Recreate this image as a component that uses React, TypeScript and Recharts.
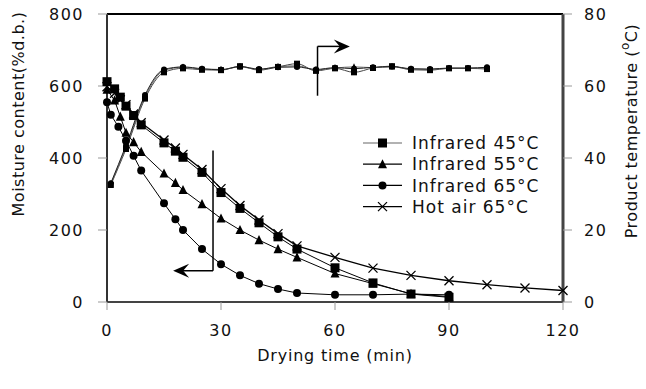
import React from 'react'
import { ComposedChart, Line, XAxis, YAxis, ReferenceLine, Label } from 'recharts'

// drying time (min) for each moisture series
const timeIr45 = [0, 2, 3.5, 5, 7, 9, 15, 18, 20, 25, 30, 35, 40, 45, 50, 60, 70, 80, 90]
const timeIr55 = [0, 2, 3.5, 5, 7, 9, 15, 18, 20, 25, 30, 35, 40, 45, 50, 60, 70, 80, 90]
const timeIr65 = [0, 1, 3, 5, 7, 9, 15, 18, 20, 25, 30, 35, 40, 45, 50, 60, 70, 80, 90]
const timeHot = [0, 2, 3.5, 5, 7, 9, 15, 18, 20, 25, 30, 35, 40, 45, 50, 60, 70, 80, 90, 100, 110, 120]

// moisture content (%d.b.)
const moistIr45 = [612, 592, 569, 544, 518, 492, 442, 419, 402, 360, 304, 260, 220, 181, 147, 95, 53, 22, 13]
const moistIr55 = [590, 560, 515, 470, 444, 417, 357, 331, 311, 272, 232, 200, 172, 147, 124, 79, 51, 23, 15]
const moistIr65 = [555, 520, 487, 448, 406, 365, 274, 230, 200, 147, 105, 74, 51, 36, 25, 20, 20, 22, 20]
const moistHot = [598, 580, 562, 548, 522, 498, 450, 428, 410, 368, 315, 268, 228, 190, 156, 124, 94, 74, 59, 48, 39, 32]

// product temperature (°C)
const tempTime = [1, 5, 10, 15, 20, 25, 30, 35, 40, 45, 50, 55, 60, 65, 70, 75, 80, 85, 90, 95, 100]
const tempIr45 = [32.5, 42.5, 56.5, 63.8, 64.9, 64.5, 64.4, 65.5, 64.4, 65.3, 66.2, 64.2, 64.9, 63.8, 65, 65.5, 64.5, 64.4, 64.9, 64.9, 64.7]
const tempIr55 = [32.8, 43, 57, 64.3, 65.2, 64.7, 64.6, 65.3, 64.6, 65.4, 65.6, 64.5, 65, 65.3, 65.1, 65.3, 64.7, 64.6, 64.9, 64.9, 65]
const tempIr65 = [33, 43.5, 57.5, 64.6, 65.3, 64.8, 64.5, 65.4, 64.7, 65.2, 65.3, 64.6, 65.1, 64.8, 65.2, 65.4, 64.8, 64.7, 65, 65, 65.2]

const xTicks = [0, 30, 60, 90, 120]
const moistTicks = [0, 200, 400, 600, 800]
const tempTicks = [0, 20, 40, 60, 80]

const legendNames = ['Infrared 45°C', 'Infrared 55°C', 'Infrared 65°C', 'Hot air 65°C']

const toPoints = (ts: number[], vs: number[]) => ts.map((t, i) => ({ t, v: vs[i] }))

const FONT = '"DejaVu Sans", sans-serif'
const tickStyle = { fontFamily: FONT, fontSize: 16, fill: '#111', letterSpacing: 1.5 }

type Shape = 'square' | 'triangle' | 'circle' | 'cross'

const marker = (shape: Shape, cx: number, cy: number, s: number, key?: string) => {
  if (shape === 'square') {
    return <rect key={key} x={cx - s / 2} y={cy - s / 2} width={s} height={s} fill="#000" />
  }
  if (shape === 'triangle') {
    const h = s * 0.9
    return (
      <path key={key} d={`M${cx},${cy - h / 2 - 1} L${cx + s / 2},${cy + h / 2} L${cx - s / 2},${cy + h / 2} Z`} fill="#000" />
    )
  }
  if (shape === 'circle') {
    return <circle key={key} cx={cx} cy={cy} r={s / 2} fill="#000" />
  }
  const r = s / 2
  return (
    <path key={key} d={`M${cx - r},${cy - r} L${cx + r},${cy + r} M${cx - r},${cy + r} L${cx + r},${cy - r}`} stroke="#000" strokeWidth={1.3} fill="none" />
  )
}

const dotOf = (shape: Shape, s: number) => (p: any) => marker(shape, p.cx, p.cy, s, `${shape}-${s}-${p.index}`)

const arrowLeft = (p: any) => {
  const { x1, y1, x2, y2 } = p
  return (
    <g>
      <line x1={x1} y1={y1} x2={x2 + 8} y2={y2} stroke="#000" strokeWidth={1.5} />
      <path d={`M${x2},${y2} L${x2 + 16},${y2 - 7} L${x2 + 10},${y2} L${x2 + 16},${y2 + 7} Z`} fill="#000" />
    </g>
  )
}

const arrowRight = (p: any) => {
  const { x1, y1, x2, y2 } = p
  return (
    <g>
      <line x1={x1} y1={y1} x2={x2 - 8} y2={y2} stroke="#000" strokeWidth={1.5} />
      <path d={`M${x2},${y2} L${x2 - 16},${y2 - 7} L${x2 - 10},${y2} L${x2 - 16},${y2 + 7} Z`} fill="#000" />
    </g>
  )
}

const legendShapes: Shape[] = ['square', 'triangle', 'circle', 'cross']

const LegendBox = () => (
  <svg width={220} height={90} style={{ position: 'absolute', left: 360, top: 132 }}>
    {legendNames.map((name, i) => {
      const y = 11 + i * 21.2
      return (
        <g key={name}>
          <line x1={3} y1={y} x2={42} y2={y} stroke={i === 0 ? '#666' : '#000'} strokeWidth={1.2} />
          {marker(legendShapes[i], 22.5, y, i === 2 ? 8 : 9)}
          <text x={52} y={y} dy="0.36em" fontFamily={FONT} fontSize={17} letterSpacing={1} fill="#111">
            {name}
          </text>
        </g>
      )
    })}
  </svg>
)

const leftTitle = () => (
  <text transform="translate(24,114) rotate(-90)" textAnchor="middle" fontFamily={FONT} fontSize={16} letterSpacing={0.5} fill="#111">
    Moisture content(%d.b.)
  </text>
)

const rightTitle = () => (
  <text transform="translate(637,131) rotate(-90)" textAnchor="middle" fontFamily={FONT} fontSize={16} letterSpacing={0.5} fill="#111">
    Product temperature (<tspan dy={-8} fontSize={12}>o</tspan>
    <tspan dy={8}>C)</tspan>
  </text>
)

export default function App(): JSX.Element {
  return (
    <div style={{ position: 'absolute', left: 0, top: 0, width: 646, height: 389 }}>
      <ComposedChart width={646} height={389} margin={{ top: 14, right: 0, bottom: 0, left: 0 }}>
        <XAxis
          type="number"
          dataKey="t"
          domain={[0, 120]}
          ticks={xTicks}
          height={87}
          tickSize={8}
          tickMargin={15}
          tick={tickStyle}
          stroke="#999"
          axisLine={{ stroke: '#444', strokeWidth: 2 }}
        >
          <Label
            value="Drying time (min)"
            position="insideBottom"
            offset={28}
            style={{ fontFamily: FONT, fontSize: 16, letterSpacing: 0.8, fill: '#111' }}
          />
        </XAxis>
        <YAxis
          yAxisId="left"
          type="number"
          domain={[0, 800]}
          ticks={moistTicks}
          width={107}
          tickSize={9}
          tickMargin={14}
          tick={tickStyle}
          stroke="#999"
          axisLine={{ stroke: '#333', strokeWidth: 2 }}
        >
          <Label content={leftTitle} />
        </YAxis>
        <YAxis
          yAxisId="right"
          orientation="right"
          type="number"
          domain={[0, 80]}
          ticks={tempTicks}
          width={83}
          tickSize={9}
          tickMargin={12}
          tick={tickStyle}
          stroke="#999"
          axisLine={{ stroke: '#444', strokeWidth: 3 }}
        >
          <Label content={rightTitle} />
        </YAxis>
        <ReferenceLine yAxisId="left" y={800} stroke="#000" strokeWidth={2} />

        <Line yAxisId="right" data={toPoints(tempTime, tempIr45)} dataKey="v" type="monotone" stroke="#444" strokeWidth={1} dot={dotOf('square', 6)} isAnimationActive={false} />
        <Line yAxisId="right" data={toPoints(tempTime, tempIr55)} dataKey="v" type="monotone" stroke="#666" strokeWidth={1} dot={dotOf('triangle', 6)} isAnimationActive={false} />
        <Line yAxisId="right" data={toPoints(tempTime, tempIr65)} dataKey="v" type="monotone" stroke="#222" strokeWidth={1} dot={dotOf('circle', 6)} isAnimationActive={false} />

        <Line yAxisId="left" data={toPoints(timeHot, moistHot)} dataKey="v" type="linear" stroke="#000" strokeWidth={1.3} dot={dotOf('cross', 9)} isAnimationActive={false} />
        <Line yAxisId="left" data={toPoints(timeIr55, moistIr55)} dataKey="v" type="linear" stroke="#000" strokeWidth={1} dot={dotOf('triangle', 9)} isAnimationActive={false} />
        <Line yAxisId="left" data={toPoints(timeIr65, moistIr65)} dataKey="v" type="linear" stroke="#000" strokeWidth={1} dot={dotOf('circle', 8)} isAnimationActive={false} />
        <Line yAxisId="left" data={toPoints(timeIr45, moistIr45)} dataKey="v" type="linear" stroke="#000" strokeWidth={1} dot={dotOf('square', 9)} isAnimationActive={false} />

        <ReferenceLine yAxisId="left" segment={[{ x: 27.9, y: 421 }, { x: 27.9, y: 87 }]} stroke="#000" strokeWidth={1.5} />
        <ReferenceLine yAxisId="left" segment={[{ x: 27.9, y: 87 }, { x: 17.4, y: 87 }]} shape={arrowLeft} />
        <ReferenceLine yAxisId="right" segment={[{ x: 55.4, y: 57.3 }, { x: 55.4, y: 71 }]} stroke="#000" strokeWidth={1.5} />
        <ReferenceLine yAxisId="right" segment={[{ x: 55.4, y: 71 }, { x: 63.9, y: 71 }]} shape={arrowRight} />
      </ComposedChart>
      <LegendBox />
    </div>
  )
}
